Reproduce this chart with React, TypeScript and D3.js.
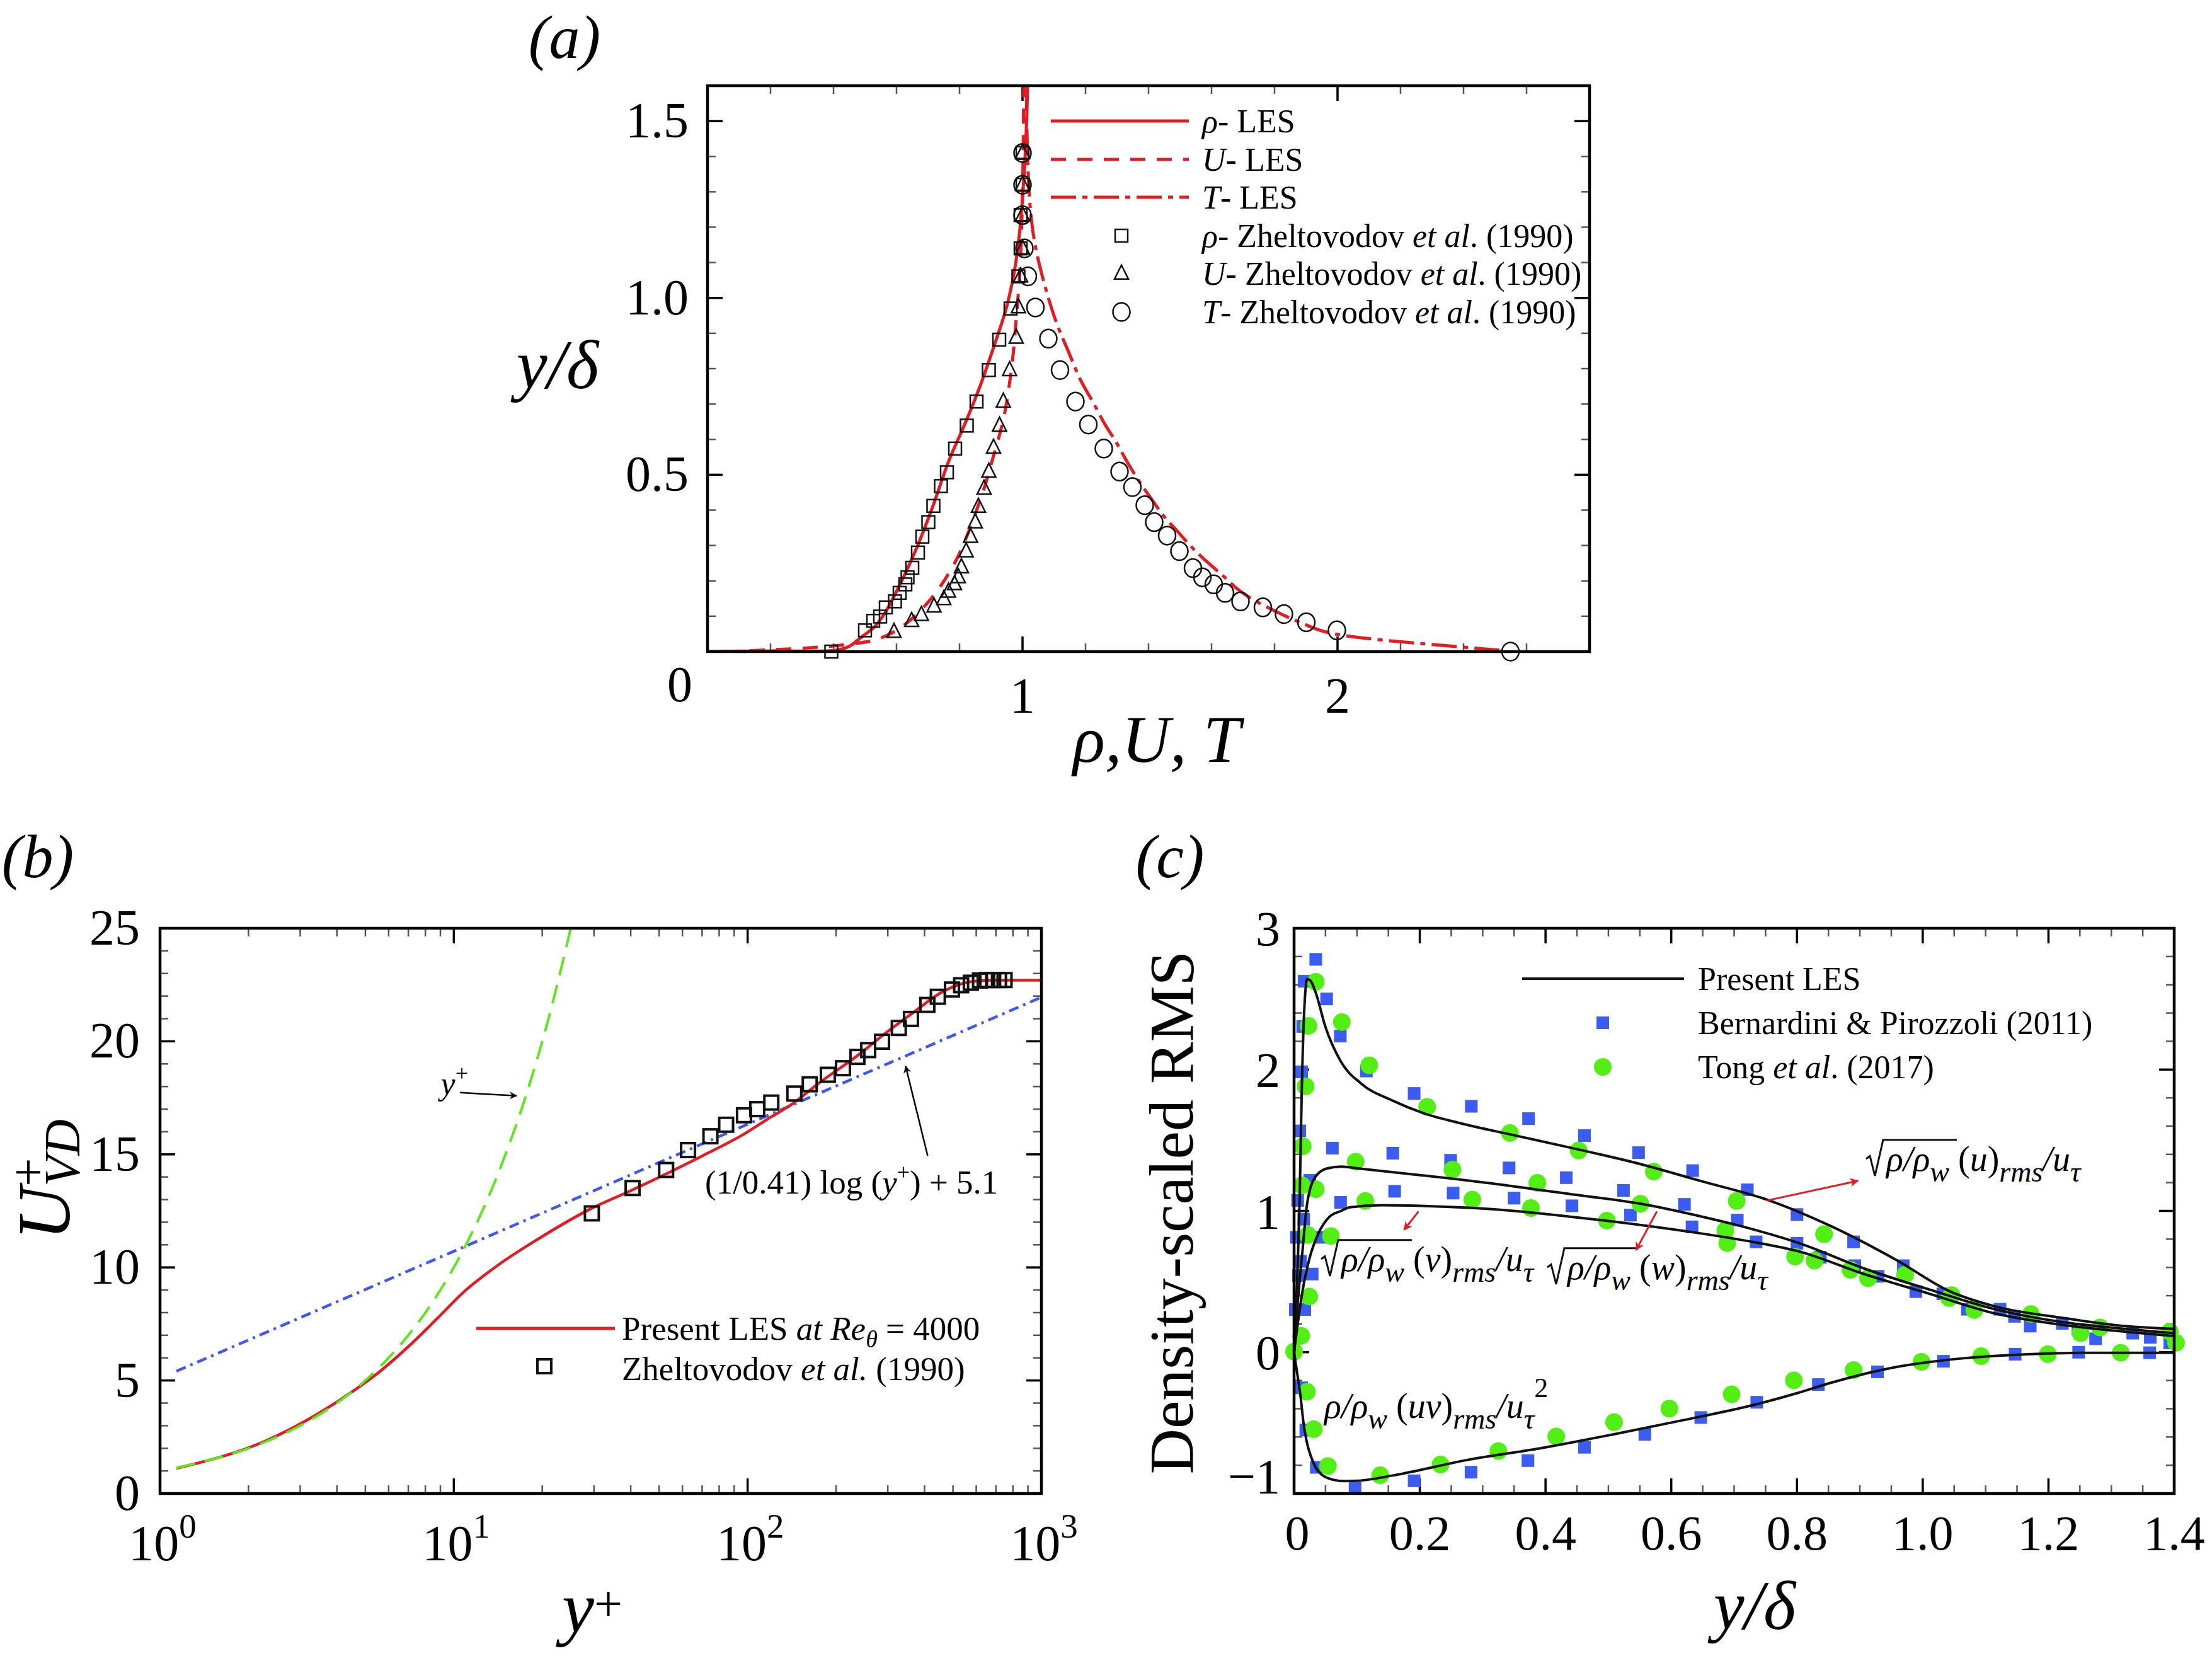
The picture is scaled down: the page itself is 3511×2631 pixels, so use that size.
import React from 'react';
import * as d3 from 'd3';

type P = [number, number];

const FONT = "'Liberation Serif', 'Times New Roman', Times, serif";
const RED = '#e31b23';
const GREEN_LINE = '#5ee61e';
const GREEN = '#52ee14';
const BLUE_LINE = '#4157f2';
const BLUE = '#3a5cf0';

// ---------------- Panel (a) ----------------
const aXLabels = [1, 2];
const aYLabels = [0.5, 1.0, 1.5];
const aRhoLES: P[] = [[0, 0], [0.2, 0.002], [0.41, 0.004], [0.45, 0.015], [0.49, 0.042], [0.53, 0.07], [0.561, 0.106], [0.6, 0.17], [0.663, 0.291], [0.715, 0.41], [0.765, 0.537], [0.82, 0.65], [0.867, 0.755], [0.91, 0.865], [0.949, 0.973], [0.975, 1.08], [0.99, 1.18], [1.005, 1.35], [1.013, 1.5], [1.016, 1.6]];
const aULES: P[] = [[0.05, 0], [0.2, 0.005], [0.36, 0.013], [0.46, 0.022], [0.54, 0.035], [0.62, 0.072], [0.71, 0.15], [0.79, 0.26], [0.87, 0.44], [0.91, 0.56], [0.94, 0.66], [0.965, 0.8], [0.98, 0.94], [0.993, 1.1], [1.0, 1.3], [1.004, 1.6]];
const aTLES: P[] = [[1.012, 1.6], [1.016, 1.4], [1.025, 1.25], [1.04, 1.15], [1.069, 1.041], [1.107, 0.932], [1.145, 0.85], [1.184, 0.768], [1.222, 0.708], [1.26, 0.645], [1.298, 0.591], [1.337, 0.529], [1.375, 0.475], [1.413, 0.427], [1.452, 0.379], [1.49, 0.342], [1.528, 0.304], [1.566, 0.27], [1.605, 0.239], [1.643, 0.209], [1.681, 0.178], [1.719, 0.154], [1.796, 0.117], [1.872, 0.086], [1.949, 0.059], [2.026, 0.045], [2.14, 0.033], [2.3, 0.02], [2.53, 0.003]];
const aRhoExp: P[] = [[1.0, 1.41], [1.0, 1.32], [0.994, 1.234], [0.994, 1.14], [0.987, 1.061], [0.962, 0.97], [0.926, 0.882], [0.893, 0.796], [0.854, 0.707], [0.823, 0.639], [0.786, 0.574], [0.76, 0.507], [0.741, 0.468], [0.717, 0.412], [0.701, 0.366], [0.682, 0.325], [0.668, 0.28], [0.65, 0.237], [0.635, 0.21], [0.628, 0.19], [0.61, 0.166], [0.595, 0.142], [0.566, 0.125], [0.548, 0.099], [0.526, 0.087], [0.5, 0.06], [0.393, 0.0]];
const aUExp: P[] = [[1.0, 1.41], [1.0, 1.32], [1.0, 1.234], [1.0, 1.14], [0.994, 1.061], [0.987, 0.974], [0.98, 0.888], [0.959, 0.796], [0.939, 0.707], [0.927, 0.639], [0.908, 0.577], [0.893, 0.509], [0.878, 0.461], [0.86, 0.41], [0.85, 0.366], [0.835, 0.325], [0.821, 0.284], [0.806, 0.239], [0.796, 0.211], [0.784, 0.191], [0.765, 0.17], [0.75, 0.149], [0.719, 0.128], [0.679, 0.104], [0.648, 0.087], [0.592, 0.056]];
const aTExp: P[] = [[1.0, 1.41], [1.0, 1.32], [1.0, 1.234], [1.006, 1.14], [1.017, 1.061], [1.041, 0.973], [1.082, 0.885], [1.119, 0.796], [1.168, 0.707], [1.209, 0.642], [1.258, 0.574], [1.308, 0.509], [1.349, 0.465], [1.388, 0.414], [1.418, 0.366], [1.459, 0.328], [1.498, 0.284], [1.541, 0.236], [1.571, 0.21], [1.607, 0.19], [1.643, 0.166], [1.692, 0.142], [1.763, 0.125], [1.83, 0.106], [1.901, 0.083], [1.998, 0.06], [2.549, 0.0]];

// ---------------- Panel (b) ----------------
const bXExponents = [0, 1, 2, 3];
const bYLabels = [0, 5, 10, 15, 20, 25];
const bLES: P[] = [[1.137, 1.11], [2.3, 2.34], [3.44, 3.52], [4.61, 4.59], [5.7, 5.48], [7.07, 6.55], [8.76, 7.73], [10.8, 8.91], [14.1, 10.09], [19.5, 11.28], [29.1, 12.58], [40.1, 13.4], [52.3, 14.11], [70.3, 14.94], [97, 15.89], [119.7, 16.64], [140.5, 17.19], [174, 18.13], [240, 19.43], [296, 20.38], [367, 21.28], [455, 22.15], [565, 22.62], [663, 22.7], [1000, 22.7]];
const bLinear: P[] = [[1.137, 1.137], [2.3, 2.3], [3.44, 3.44], [4.61, 4.61], [5.7, 5.7], [7.07, 7.07], [8.76, 8.76], [10.8, 10.8], [14.1, 14.1], [17.6, 17.6], [21, 21], [25, 25]];
const bLogLaw: P[] = [[1.137, 5.41], [1000, 21.95]];
const bExp: P[] = [[29.5, 12.39], [40.6, 13.51], [52.8, 14.31], [62.7, 15.19], [74.7, 15.8], [84.5, 16.31], [97.2, 16.73], [107.8, 17.0], [120.4, 17.29], [144.2, 17.69], [162.7, 18.1], [187.5, 18.52], [211.1, 18.81], [236.4, 19.31], [257.3, 19.61], [286.7, 19.98], [327, 20.59], [359.7, 20.99], [409, 21.61], [444, 21.97], [496, 22.29], [533, 22.48], [575, 22.59], [618, 22.69], [654, 22.71], [685, 22.71], [717, 22.71], [749, 22.71]];

// ---------------- Panel (c) ----------------
const cXLabels = [0, 0.2, 0.4, 0.6, 0.8, 1.0, 1.2, 1.4];
const cYLabels = [-1, 0, 1, 2, 3];
const cULES: P[] = [[0, 0], [0.003, 0.3], [0.006, 0.65], [0.009, 1.1], [0.012, 1.8], [0.016, 2.4], [0.021, 2.64], [0.026, 2.63], [0.034, 2.55], [0.05, 2.3], [0.074, 2.06], [0.107, 1.9], [0.157, 1.78], [0.207, 1.69], [0.265, 1.62], [0.345, 1.54], [0.437, 1.45], [0.552, 1.33], [0.648, 1.21], [0.752, 1.08], [0.855, 0.89], [0.959, 0.65], [1.042, 0.433], [1.115, 0.324], [1.219, 0.245], [1.322, 0.185], [1.4, 0.165]];
const cWLES: P[] = [[0, 0], [0.004, 0.25], [0.0137, 0.73], [0.0204, 1.04], [0.0338, 1.24], [0.052, 1.3], [0.075, 1.313], [0.103, 1.3], [0.207, 1.25], [0.322, 1.19], [0.437, 1.12], [0.552, 1.05], [0.648, 0.96], [0.704, 0.9], [0.804, 0.771], [0.907, 0.592], [1.011, 0.443], [1.115, 0.304], [1.219, 0.215], [1.322, 0.165], [1.4, 0.135]];
const cVLES: P[] = [[0, 0], [0.0054, 0.188], [0.015, 0.472], [0.025, 0.671], [0.0388, 0.841], [0.0555, 0.955], [0.075, 1.0], [0.089, 1.026], [0.139, 1.04], [0.236, 1.03], [0.322, 1.01], [0.437, 0.96], [0.552, 0.9], [0.648, 0.84], [0.73, 0.78], [0.804, 0.712], [0.907, 0.553], [1.011, 0.413], [1.115, 0.274], [1.219, 0.195], [1.322, 0.145], [1.4, 0.115]];
const cUVLES: P[] = [[0, 0], [0.005, -0.15], [0.01, -0.3], [0.015, -0.5], [0.02, -0.63], [0.027, -0.74], [0.035, -0.82], [0.045, -0.87], [0.06, -0.9], [0.08, -0.912], [0.1, -0.91], [0.16, -0.87], [0.275, -0.763], [0.39, -0.681], [0.505, -0.584], [0.62, -0.48], [0.735, -0.369], [0.8, -0.29], [0.855, -0.215], [0.959, -0.104], [1.062, -0.044], [1.166, -0.014], [1.269, -0.004], [1.4, -0.004]];
const cBernardini: P[] = [
  [0.0345, 2.78], [0.0161, 2.625], [0.0518, 2.5], [0.0736, 2.237], [0.0137, 2.305], [0.012, 1.984], [0.115, 1.99], [0.191, 1.831], [0.282, 1.74], [0.373, 1.653], [0.462, 1.533], [0.548, 1.412], [0.634, 1.285], [0.721, 1.149], [0.8, 0.974], [0.89, 0.781], [0.969, 0.612], [1.032, 0.413], [1.123, 0.304], [1.222, 0.204], [1.334, 0.135], [1.393, 0.066],
  [0.009, 1.566], [0.061, 1.444], [0.157, 1.408], [0.249, 1.358], [0.342, 1.304], [0.433, 1.235], [0.524, 1.145], [0.621, 1.046], [0.705, 0.935], [0.8, 0.771], [0.892, 0.612], [0.989, 0.429], [1.071, 0.304], [1.146, 0.254], [1.247, 0.162], [1.362, 0.105],
  [0.025, 1.216], [0.0057, 1.074], [0.074, 1.06], [0.0154, 0.941], [0.0438, 0.813], [0.0037, 0.813], [0.0104, 0.643], [0.0071, 0.543], [0.0288, 0.553], [0.002, 0.302], [0.017, 0.302], [0.16, 1.139], [0.253, 1.126], [0.35, 1.09], [0.442, 1.036], [0.535, 0.97], [0.633, 0.887], [0.735, 0.781], [0.837, 0.672], [0.929, 0.537], [1.171, 0.185], [1.275, 0.095],
  [0.012, -0.252], [0.0187, -0.551], [0.0354, -0.815], [0.097, -0.963], [0.191, -0.91], [0.2815, -0.849], [0.372, -0.767], [0.462, -0.673], [0.558, -0.581], [0.647, -0.462], [0.736, -0.354], [0.834, -0.229], [0.928, -0.139], [1.033, -0.064], [1.147, -0.014], [1.248, 0.0], [1.361, -0.004]
];
const cTong: P[] = [
  [0.0345, 2.621], [0.076, 2.336], [0.023, 2.309], [0.1196, 2.03], [0.0184, 1.881], [0.2117, 1.736], [0.3434, 1.551], [0.4528, 1.427], [0.5722, 1.278], [0.704, 1.07], [0.843, 0.835], [0.972, 0.549], [1.046, 0.404], [1.172, 0.27], [1.282, 0.175], [1.393, 0.145], [1.403, 0.066],
  [0.0138, 1.457], [0.098, 1.348], [0.252, 1.292], [0.387, 1.198], [0.551, 1.05], [0.686, 0.861], [0.797, 0.676], [0.885, 0.583], [1.042, 0.383], [1.251, 0.135],
  [0.0126, 1.18], [0.0345, 1.153], [0.1133, 1.07], [0.2836, 1.08], [0.3768, 1.02], [0.4976, 0.931], [0.689, 0.772], [0.828, 0.648], [0.913, 0.523], [1.082, 0.298], [0.0586, 0.822], [0.022, 0.829], [0.0241, 0.394], [0.0114, 0.116], [0.0, 0.004],
  [0.0204, -0.28], [0.0314, -0.545], [0.0538, -0.806], [0.137, -0.871], [0.233, -0.795], [0.325, -0.7], [0.417, -0.596], [0.509, -0.495], [0.597, -0.399], [0.696, -0.298], [0.795, -0.199], [0.89, -0.127], [0.998, -0.068], [1.093, -0.028], [1.199, -0.014], [1.315, -0.004]
];

// ---------------- layout ----------------
const W = 3511, H = 2631;
const A = { l: 1123, r: 2523, t: 136, b: 1034 };
const B = { l: 254, r: 1653, t: 1473, b: 2370 };
const C = { l: 2054, r: 3451, t: 1473, b: 2370 };
const MAJ = 24, MIN = 13;

type Box = { l: number; r: number; t: number; b: number };

function Ticks({ box, xs, ys, len, stroke, sw }: { box: Box; xs: number[]; ys: number[]; len: number; stroke: string; sw: number }) {
  return (
    <g stroke={stroke} strokeWidth={sw}>
      {xs.map((x, i) => (
        <g key={'x' + i}>
          <line x1={x} x2={x} y1={box.b} y2={box.b - len} />
          <line x1={x} x2={x} y1={box.t} y2={box.t + len} />
        </g>
      ))}
      {ys.map((y, i) => (
        <g key={'y' + i}>
          <line x1={box.l} x2={box.l + len} y1={y} y2={y} />
          <line x1={box.r} x2={box.r - len} y1={y} y2={y} />
        </g>
      ))}
    </g>
  );
}

function Frame({ box }: { box: Box }) {
  return <rect x={box.l} y={box.t} width={box.r - box.l} height={box.b - box.t} fill="none" stroke="#000" strokeWidth={4.5} />;
}

function Sq({ x, y, s, ...rest }: any) {
  return <rect x={x - s / 2} y={y - s / 2} width={s} height={s} {...rest} />;
}
function Tri({ x, y, s, ...rest }: any) {
  return <path d={`M${x},${y - s * 0.6} L${x + s / 2},${y + s * 0.4} L${x - s / 2},${y + s * 0.4} Z`} {...rest} />;
}

function RadLabel({ x, y, v, F = 56, Fs = 46 }: { x: number; y: number; v: string; F?: number; Fs?: number }) {
  const inner = 1.3 * F + 0.72 * Fs + 6;
  const barY = y - 0.88 * F;
  const sub = 0.3 * F;
  return (
    <g>
      <path d={`M${x},${y - 0.34 * F} L${x + 6},${y - 0.42 * F} L${x + 14},${y + 0.14 * F} L${x + 27},${barY} L${x + 32 + inner},${barY}`} fill="none" stroke="#111" strokeWidth={3} />
      <text x={x + 32} y={y} fontSize={F} fontStyle="italic" style={{ whiteSpace: 'pre' }}>
        ρ/ρ<tspan fontSize={Fs} dy={sub}>w</tspan>
        <tspan dy={-sub} fontStyle="normal"> (</tspan>
        <tspan>{v}</tspan>
        <tspan fontStyle="normal">)</tspan>
        <tspan fontSize={Fs} dy={sub}>rms</tspan>
        <tspan dy={-sub}>/u</tspan>
        <tspan fontSize={Fs} dy={sub}>τ</tspan>
      </text>
    </g>
  );
}

export default function App() {
  const xa = d3.scaleLinear().domain([0, 2.8]).range([A.l, A.r]);
  const ya = d3.scaleLinear().domain([0, 1.6]).range([A.b, A.t]);
  const xb = d3.scaleLog().domain([1, 1000]).range([B.l, B.r]);
  const yb = d3.scaleLinear().domain([0, 25]).range([B.b, B.t]);
  const xc = d3.scaleLinear().domain([0, 1.4]).range([C.l, C.r]);
  const yc = d3.scaleLinear().domain([-1, 3]).range([C.b, C.t]);

  const la = d3.line<P>().x(d => xa(d[0])).y(d => ya(d[1])).curve(d3.curveCatmullRom.alpha(0.5));
  const lb = d3.line<P>().x(d => xb(d[0])).y(d => yb(d[1])).curve(d3.curveMonotoneX);
  const lc = d3.line<P>().x(d => xc(d[0])).y(d => yc(d[1])).curve(d3.curveMonotoneX);

  const aMinX = d3.range(0, 2.8001, 0.2).map(v => xa(v));
  const aMinY = d3.range(0, 1.6001, 0.1).map(v => ya(v));
  const aMajX = [0, 1, 2].map(v => xa(v));
  const aMajY = [0, 0.5, 1, 1.5].map(v => ya(v));

  const bMinX: number[] = [];
  [1, 10, 100].forEach(dec => { for (let k = 2; k <= 9; k++) bMinX.push(xb(k * dec)); });
  const bMajX = bXExponents.map(e => xb(Math.pow(10, e)));
  const bMinY = d3.range(0, 25.001, 1).map(v => yb(v));
  const bMajY = bYLabels.map(v => yb(v));

  const cMinX = d3.range(0, 1.4001, 0.05).map(v => xc(v));
  const cMajX = cXLabels.map(v => xc(v));
  const cMinY = d3.range(-1, 3.001, 0.2).map(v => yc(v));
  const cMajY = cYLabels.map(v => yc(v));

  const legA = [192, 253, 313, 374, 434, 495];

  return (
    <svg width={W} height={H} viewBox={`0 0 ${W} ${H}`} style={{ position: 'absolute', left: 0, top: 0, display: 'block' }} fontFamily={FONT} fill="#000">
      <defs>
        <clipPath id="clipA"><rect x={A.l} y={A.t} width={A.r - A.l} height={A.b - A.t} /></clipPath>
        <clipPath id="clipB"><rect x={B.l} y={B.t} width={B.r - B.l} height={B.b - B.t} /></clipPath>
        <clipPath id="clipC"><rect x={C.l} y={C.t} width={C.r - C.l} height={C.b - C.t} /></clipPath>
        <marker id="ahK" viewBox="0 0 10 10" refX="9" refY="5" markerWidth="24" markerHeight="12" markerUnits="userSpaceOnUse" orient="auto">
          <path d="M0,0 L10,5 L0,10 L3,5 Z" fill="#000" />
        </marker>
        <marker id="ahR" viewBox="0 0 10 10" refX="9" refY="5" markerWidth="24" markerHeight="14" markerUnits="userSpaceOnUse" orient="auto">
          <path d="M0,0 L10,5 L0,10 L3,5 Z" fill={RED} />
        </marker>
      </defs>
      <rect x={0} y={0} width={W} height={H} fill="#fff" />

      {/* ================= Panel (a) ================= */}
      <text x={896} y={92} fontSize={98} fontStyle="italic" textAnchor="middle">(a)</text>
      <Ticks box={A} xs={aMinX} ys={aMinY} len={MIN} stroke="#555" sw={2.5} />
      <Ticks box={A} xs={aMajX} ys={aMajY} len={MAJ} stroke="#000" sw={3.5} />
      <g clipPath="url(#clipA)" fill="none" stroke={RED} strokeWidth={5}>
        <path d={la(aRhoLES) || ''} />
        <path d={la(aULES) || ''} strokeDasharray="24,18" />
        <path d={la(aTLES) || ''} strokeDasharray="40,10,8,10" />
      </g>
      <g fill="none" stroke="#111" strokeWidth={2.5}>
        {aRhoExp.map((d, i) => <Sq key={'ar' + i} x={xa(d[0])} y={ya(d[1])} s={20} />)}
        {aUExp.map((d, i) => <Tri key={'au' + i} x={xa(d[0])} y={ya(d[1])} s={22} />)}
        {aTExp.map((d, i) => <ellipse key={'at' + i} cx={xa(d[0])} cy={ya(d[1])} rx={13.5} ry={14.5} />)}
      </g>
      <Frame box={A} />
      {aYLabels.map(v => <text key={'ay' + v} x={A.l - 30} y={ya(v) + 26} fontSize={80} textAnchor="end">{v.toFixed(1)}</text>)}
      {aXLabels.map(v => <text key={'ax' + v} x={xa(v)} y={1131} fontSize={80} textAnchor="middle">{v}</text>)}
      <text x={1079} y={1113} fontSize={80} textAnchor="middle">0</text>
      <text x={885} y={616} fontSize={110} fontStyle="italic" textAnchor="middle">y/δ</text>
      <text x={1836} y={1209} fontSize={106} fontStyle="italic" textAnchor="middle" style={{ whiteSpace: 'pre' }}>ρ,U, T</text>
      <g fill="none" stroke={RED} strokeWidth={5}>
        <line x1={1668} x2={1887} y1={legA[0]} y2={legA[0]} />
        <line x1={1668} x2={1887} y1={legA[1]} y2={legA[1]} strokeDasharray="24,18" />
        <line x1={1668} x2={1887} y1={legA[2]} y2={legA[2]} strokeDasharray="40,10,8,10" />
      </g>
      <g fill="none" stroke="#111" strokeWidth={2.5}>
        <Sq x={1780} y={legA[3]} s={20} />
        <Tri x={1780} y={legA[4]} s={22} />
        <ellipse cx={1780} cy={legA[5]} rx={13.5} ry={14.5} />
      </g>
      <g fontSize={52} style={{ whiteSpace: 'pre' }}>
        <text x={1908} y={legA[0] + 18}><tspan fontStyle="italic">ρ</tspan>- LES</text>
        <text x={1908} y={legA[1] + 18}><tspan fontStyle="italic">U</tspan>- LES</text>
        <text x={1908} y={legA[2] + 18}><tspan fontStyle="italic">T</tspan>- LES</text>
        <text x={1908} y={legA[3] + 18}><tspan fontStyle="italic">ρ</tspan>- Zheltovodov <tspan fontStyle="italic">et al</tspan>. (1990)</text>
        <text x={1908} y={legA[4] + 18}><tspan fontStyle="italic">U</tspan>- Zheltovodov <tspan fontStyle="italic">et al</tspan>. (1990)</text>
        <text x={1908} y={legA[5] + 18}><tspan fontStyle="italic">T</tspan>- Zheltovodov <tspan fontStyle="italic">et al</tspan>. (1990)</text>
      </g>

      {/* ================= Panel (b) ================= */}
      <text x={60} y={1392} fontSize={98} fontStyle="italic" textAnchor="middle">(b)</text>
      <Ticks box={B} xs={bMinX} ys={bMinY} len={MIN} stroke="#555" sw={2.5} />
      <Ticks box={B} xs={bMajX} ys={bMajY} len={MAJ} stroke="#000" sw={3.5} />
      <g clipPath="url(#clipB)" fill="none">
        <path d={lb(bLogLaw) || ''} stroke={BLUE_LINE} strokeWidth={4.5} strokeDasharray="16,8,4,8" />
        <path d={lb(bLES) || ''} stroke={RED} strokeWidth={4.5} />
        <path d={lb(bLinear) || ''} stroke={GREEN_LINE} strokeWidth={4} strokeDasharray="30,16" />
      </g>
      <g fill="none" stroke="#111" strokeWidth={4}>
        {bExp.map((d, i) => <Sq key={'bs' + i} x={xb(d[0])} y={yb(d[1])} s={22} />)}
      </g>
      <Frame box={B} />
      {bYLabels.map(v => <text key={'by' + v} x={B.l - 32} y={yb(v) + 26} fontSize={80} textAnchor="end">{v}</text>)}
      {bXExponents.map(e => (
        <text key={'bx' + e} x={xb(Math.pow(10, e)) + 4} y={2476} fontSize={80} textAnchor="middle">10<tspan fontSize={55} dy={-36}>{e}</tspan></text>
      ))}
      <text transform={`translate(110,1872) rotate(-90)`} fontSize={118} fontStyle="italic" textAnchor="middle">U<tspan fontSize={80} fontStyle="normal" dy={-38}>+</tspan><tspan fontSize={80} dx={-45} dy={54}>VD</tspan></text>
      <text x={940} y={2590} fontSize={115} fontStyle="italic" textAnchor="middle">y<tspan fontSize={80} fontStyle="normal" dy={-18}>+</tspan></text>
      <text x={743} y={1737} fontSize={52} textAnchor="end"><tspan fontStyle="italic">y</tspan><tspan fontSize={36} dy={-22}>+</tspan></text>
      <line x1={xb(10.5)} y1={yb(17.73)} x2={xb(16.35)} y2={yb(17.59)} stroke="#000" strokeWidth={2.5} markerEnd="url(#ahK)" />
      <text x={1119} y={1894} fontSize={53} style={{ whiteSpace: 'pre' }}>(1/0.41) log (<tspan fontStyle="italic">y</tspan><tspan fontSize={36} dy={-22}>+</tspan><tspan dy={22}>) + 5.1</tspan></text>
      <line x1={xb(410)} y1={yb(14.94)} x2={xb(345)} y2={yb(18.9)} stroke="#000" strokeWidth={2.5} markerEnd="url(#ahK)" />
      <line x1={756} x2={976} y1={2108} y2={2108} stroke={RED} strokeWidth={5} />
      <Sq x={864} y={2168} s={22} fill="none" stroke="#111" strokeWidth={4} />
      <g fontSize={53} style={{ whiteSpace: 'pre' }}>
        <text x={987} y={2126}>Present LES <tspan fontStyle="italic">at Re</tspan><tspan fontStyle="italic" fontSize={38} dy={12}>θ</tspan><tspan dy={-12}> = 4000</tspan></text>
        <text x={987} y={2190}>Zheltovodov <tspan fontStyle="italic">et al.</tspan> (1990)</text>
      </g>

      {/* ================= Panel (c) ================= */}
      <text x={1857} y={1392} fontSize={98} fontStyle="italic" textAnchor="middle">(c)</text>
      <Ticks box={C} xs={cMinX} ys={cMinY} len={MIN} stroke="#555" sw={2.5} />
      <Ticks box={C} xs={cMajX} ys={cMajY} len={MAJ} stroke="#000" sw={3.5} />
      <g>
        {cBernardini.map((d, i) => <Sq key={'cb' + i} x={xc(d[0])} y={yc(d[1])} s={20} fill={BLUE} />)}
        {cTong.map((d, i) => <circle key={'ct' + i} cx={xc(d[0])} cy={yc(d[1])} r={14} fill={GREEN} />)}
      </g>
      <g clipPath="url(#clipC)" fill="none" stroke="#111" strokeWidth={4}>
        <path d={lc(cULES) || ''} />
        <path d={lc(cWLES) || ''} />
        <path d={lc(cVLES) || ''} />
        <path d={lc(cUVLES) || ''} />
      </g>
      <Frame box={C} />
      {cYLabels.map(v => (
        <text key={'cy' + v} x={C.l - 22} y={yc(v) + 27 - (v === -1 ? 28 : 0)} fontSize={78} textAnchor="end">{v < 0 ? '\u2212' + Math.abs(v) : String(v)}</text>
      ))}
      {cXLabels.map(v => <text key={'cx' + v} x={xc(v) + (v === 0 ? 5 : 0)} y={2459} fontSize={78} textAnchor="middle">{v === 0 ? '0' : v.toFixed(1)}</text>)}
      <text transform={`translate(1893,1924) rotate(-90)`} fontSize={100} textAnchor="middle">Density-scaled RMS</text>
      <text x={2785} y={2585} fontSize={110} fontStyle="italic" textAnchor="middle">y/δ</text>
      <RadLabel x={2962} y={1858} v="u" />
      <RadLabel x={2097} y={2017} v="v" />
      <RadLabel x={2456} y={2030} v="w" />
      <text x={2102} y={2250} fontSize={56} fontStyle="italic" style={{ whiteSpace: 'pre' }}>
        ρ/ρ<tspan fontSize={46} dy={17}>w</tspan>
        <tspan dy={-17} fontStyle="normal"> (</tspan><tspan>uv</tspan><tspan fontStyle="normal">)</tspan>
        <tspan fontSize={46} dy={17}>rms</tspan>
        <tspan dy={-17}>/u</tspan>
        <tspan fontSize={46} dy={17}>τ</tspan>
        <tspan fontSize={44} fontStyle="normal" dy={-50}>2</tspan>
      </text>
      <g stroke={RED} strokeWidth={3} markerEnd="url(#ahR)">
        <line x1={xc(0.752)} y1={yc(1.073)} x2={xc(0.897)} y2={yc(1.213)} />
        <line x1={xc(0.198)} y1={yc(0.996)} x2={xc(0.175)} y2={yc(0.866)} />
        <line x1={xc(0.577)} y1={yc(0.996)} x2={xc(0.544)} y2={yc(0.722)} />
      </g>
      <line x1={2416} x2={2673} y1={1553} y2={1553} stroke="#111" strokeWidth={4} />
      <Sq x={2544} y={1623} s={20} fill={BLUE} />
      <circle cx={2544} cy={1693} r={14} fill={GREEN} />
      <g fontSize={52} style={{ whiteSpace: 'pre' }}>
        <text x={2695} y={1571}>Present LES</text>
        <text x={2695} y={1641}>Bernardini &amp; Pirozzoli (2011)</text>
        <text x={2695} y={1711}>Tong <tspan fontStyle="italic">et al</tspan>. (2017)</text>
      </g>
    </svg>
  );
}
